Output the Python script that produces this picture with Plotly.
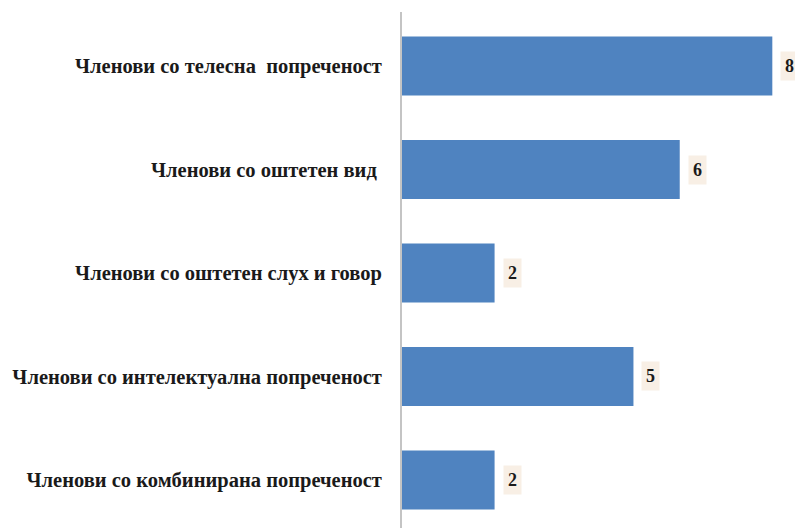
import plotly.graph_objects as go

categories = [
    "Членови со телесна\u00a0\u00a0попреченост",
    "Членови со оштетен вид\u00a0",
    "Членови со оштетен слух и говор",
    "Членови со интелектуална попреченост",
    "Членови со комбинирана попреченост",
]
values = [8, 6, 2, 5, 2]

BAR_COLOR = "#4f83c0"
FONT = "Liberation Serif"

fig = go.Figure()
fig.add_trace(go.Bar(
    x=values,
    y=categories,
    orientation="h",
    marker=dict(color=BAR_COLOR, line=dict(width=0)),
    width=0.57,
    hoverinfo="skip",
))

for c, v in zip(categories, values):
    fig.add_annotation(
        x=v, y=c, text=str(v), showarrow=False,
        xanchor="left", yanchor="middle", xshift=8,
        bgcolor="#f8efe5", borderpad=4,
        font=dict(family=FONT, size=18, color="#1a1a1a", weight="bold"),
    )

fig.update_layout(
    width=795, height=528,
    margin=dict(l=402, r=0, t=12, b=0),
    paper_bgcolor="white", plot_bgcolor="white",
    showlegend=False,
    xaxis=dict(range=[0, 8.49], showgrid=False, zeroline=False,
               showticklabels=False, showline=False, fixedrange=True),
    yaxis=dict(type="category", range=[4.464, -0.522], showgrid=False,
               zeroline=False, showline=True, linecolor="#c4c4c4", linewidth=2,
               ticks="", ticklabelstandoff=14,
               tickfont=dict(family=FONT, size=20.5, color="#1a1a1a", weight="bold")),
)

fig.write_html("out.html")
